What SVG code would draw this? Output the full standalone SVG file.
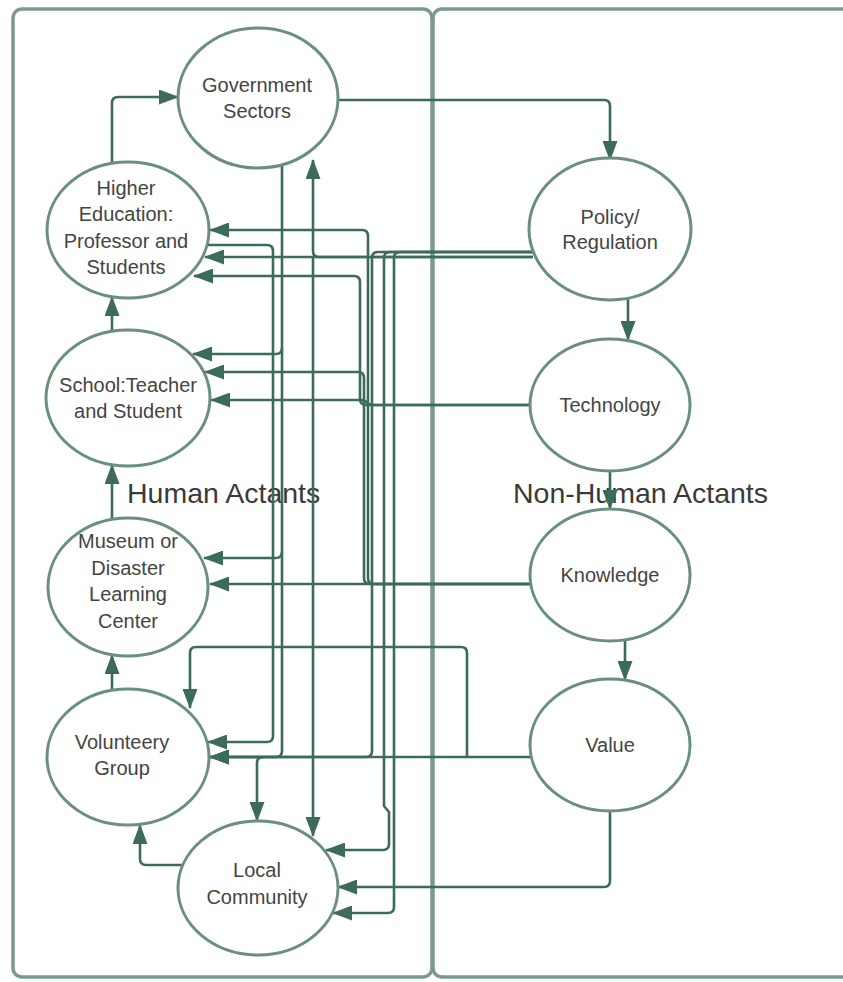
<svg xmlns="http://www.w3.org/2000/svg" width="843" height="982" viewBox="0 0 843 982">
<defs>
<marker id="ah" viewBox="0 0 20 15" refX="19" refY="7.5" markerWidth="20" markerHeight="15" markerUnits="userSpaceOnUse" orient="auto">
<path d="M0,0 L20,7.5 L0,15 z" fill="#3d6b59"/>
</marker>
<style>
.frame{fill:none;stroke:#7b9b88;stroke-width:3.5}
.node ellipse{fill:#ffffff;stroke:#6a8f7a;stroke-width:3}
.node text{font-family:"Liberation Sans",Arial,sans-serif;font-size:20px;fill:#444444;text-anchor:middle}
.lbl{font-family:"Liberation Sans",Arial,sans-serif;font-size:28.5px;fill:#3a3a3a}
#connectors path{fill:none;stroke:#3d6b59;stroke-width:2.6;stroke-linejoin:round}
#connectors path.a{marker-end:url(#ah)}
</style>
</defs>
<rect width="843" height="982" fill="#ffffff"/>
<g id="frames">
<rect class="frame" x="13" y="9" width="419" height="968" rx="9"/>
<rect class="frame" x="433" y="9" width="430" height="968" rx="9"/>
</g>
<text class="lbl" x="127" y="503">Human Actants</text>
<text class="lbl" x="513" y="503">Non-Human Actants</text>
<g id="connectors">
<path class="a" d="M112,163 V103 Q112,97 118,97 H178"/>
<path class="a" d="M338,100 H604 Q610,100 610,106 V160"/>
<path class="a" d="M112,331 V297"/>
<path class="a" d="M112,519 V465"/>
<path class="a" d="M112,690 V655"/>
<path class="a" d="M183,865 H146 Q140,865 140,859 V825"/>
<path class="a" d="M628,298 V340"/>
<path class="a" d="M610,471 V509"/>
<path class="a" d="M625,640 V680"/>
<path class="a" d="M533,257 H319 Q313,257 313,251 V160"/>
<path class="a" d="M313,257 V836"/>
<path class="a" d="M533,257 H205"/>
<path class="a" d="M282,165 V751 Q282,757 276,757 H210"/>
<path class="a" d="M282,348 Q282,354 276,354 H193"/>
<path class="a" d="M282,552 Q282,558 276,558 H204"/>
<path class="a" d="M206,245 H267 Q273,245 273,251 V736 Q273,742 267,742 H208"/>
<path class="a" d="M531,757 H210"/>
<path class="a" d="M263,757 Q257,757 257,763 V821"/>
<path class="a" d="M467,757 V653 Q467,647 461,647 H196 Q190,647 190,653 V708"/>
<path class="a" d="M610,811 V881 Q610,887 604,887 H338"/>
<path class="a" d="M531,584 H374 Q368,584 368,578 V236 Q368,230 362,230 H210"/>
<path class="a" d="M531,584 H370 Q364,584 364,578 V378 Q364,372 358,372 H205"/>
<path class="a" d="M531,584 H210"/>
<path class="a" d="M530,405 H372 C367,405 367,400 362,400 H211"/>
<path class="a" d="M530,405 H366 Q360,405 360,399 V282 Q360,276 354,276 H194"/>
<path class="a" d="M535,252 H378 Q372,252 372,258 V751 Q372,757 366,757 H210"/>
<path class="a" d="M535,252 H390 Q384,252 384,258 V806 L389,812 V844 Q389,850 383,850 H326"/>
<path class="a" d="M535,252 H400 Q394,252 394,258 V907 Q394,913 388,913 H333"/>
</g>
<g id="gov" class="node"><ellipse cx="258" cy="98" rx="80" ry="70"/><text x="257" y="92">Government</text><text x="257" y="118">Sectors</text></g>
<g id="higher" class="node"><ellipse cx="128" cy="230" rx="81" ry="68"/><text x="126" y="195">Higher</text><text x="126" y="221">Education:</text><text x="126" y="248">Professor and</text><text x="126" y="274">Students</text></g>
<g id="school" class="node"><ellipse cx="128" cy="398" rx="82" ry="68"/><text x="128" y="392">School:Teacher</text><text x="128" y="418">and Student</text></g>
<g id="museum" class="node"><ellipse cx="128" cy="587" rx="80" ry="69"/><text x="128" y="548">Museum or</text><text x="128" y="575">Disaster</text><text x="128" y="601">Learning</text><text x="128" y="628">Center</text></g>
<g id="volunteer" class="node"><ellipse cx="128" cy="757" rx="81" ry="68"/><text x="122" y="749">Volunteery</text><text x="122" y="775">Group</text></g>
<g id="local" class="node"><ellipse cx="258" cy="888" rx="80" ry="67"/><text x="257" y="877">Local</text><text x="257" y="904">Community</text></g>
<g id="policy" class="node"><ellipse cx="610" cy="229" rx="81" ry="71"/><text x="610" y="224">Policy/</text><text x="610" y="249">Regulation</text></g>
<g id="technology" class="node"><ellipse cx="610" cy="405" rx="80" ry="66"/><text x="610" y="412">Technology</text></g>
<g id="knowledge" class="node"><ellipse cx="610" cy="575" rx="80" ry="66"/><text x="610" y="582">Knowledge</text></g>
<g id="value" class="node"><ellipse cx="610" cy="745" rx="80" ry="66"/><text x="610" y="752">Value</text></g>
</svg>
